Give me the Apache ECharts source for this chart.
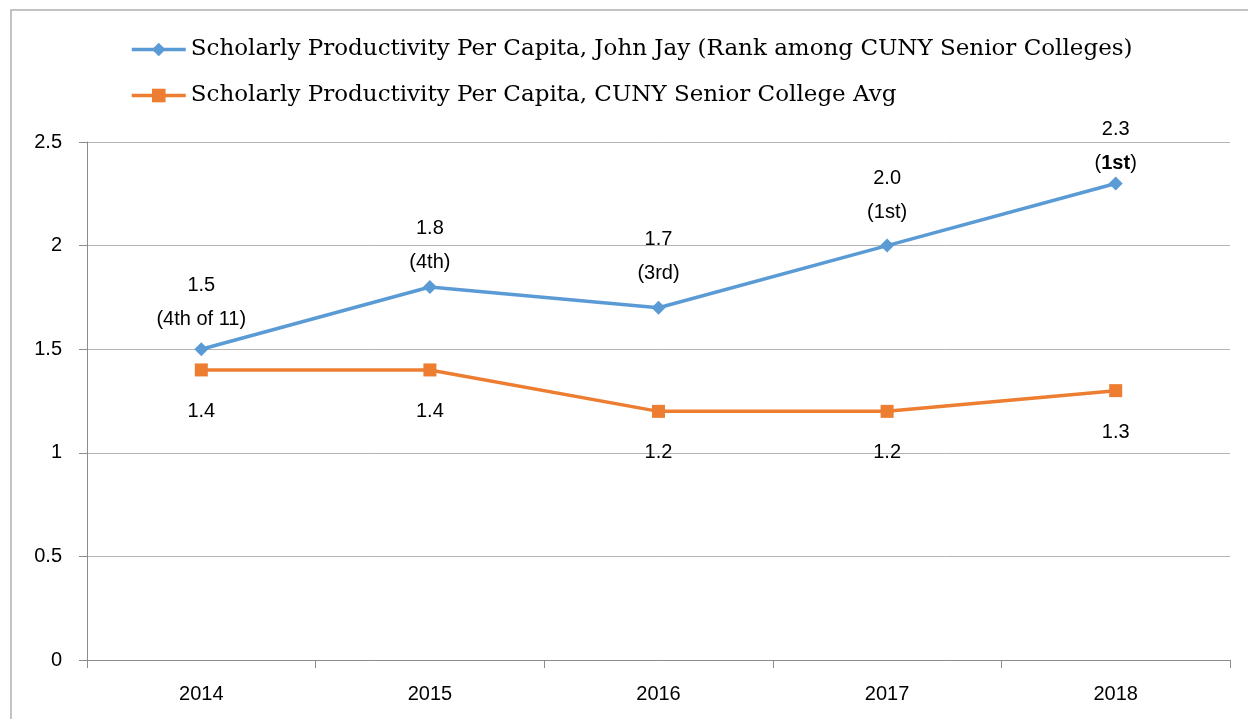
<!DOCTYPE html>
<html>
<head>
<meta charset="utf-8">
<script src="https://cdn.jsdelivr.net/npm/echarts@6/dist/echarts.min.js"></script>
<style>
  html, body { margin: 0; padding: 0; background: #fff; }
  #main { width: 1248px; height: 719px; }
</style>
</head>
<body>
<div id="main"></div>
<script>
const years = ['2014', '2015', '2016', '2017', '2018'];
const johnJay = [1.5, 1.8, 1.7, 2.0, 2.3];
const johnJayRank = ['(4th of 11)', '(4th)', '(3rd)', '(1st)', '(1st)'];
const cunyAvg = [1.4, 1.4, 1.2, 1.2, 1.3];
const seriesNames = [
  'Scholarly Productivity Per Capita, John Jay (Rank among CUNY Senior Colleges)',
  'Scholarly Productivity Per Capita, CUNY Senior College Avg'
];

const chart = echarts.init(document.getElementById('main'));
const labelFont = 'Liberation Sans, Arial, sans-serif';
// labels in the original were nudged by hand, so shift each one a bit
const rankLabelShift = [0, 5, -4, -3, 10];

chart.setOption({
  animation: false,
  backgroundColor: '#fff',
  graphic: [{
    type: 'rect',
    shape: { x: 11, y: 10, width: 1300, height: 800 },
    style: { fill: 'none', stroke: '#b0b0b0', lineWidth: 1.5 },
    silent: true
  }],
  legend: {
    orient: 'vertical',
    left: 125,
    top: 33,
    itemWidth: 54,
    itemHeight: 17,
    itemGap: 23,
    lineStyle: { width: 3.5 },
    textStyle: { fontFamily: 'DejaVu Serif, serif', fontSize: 23, color: '#000' }
  },
  grid: { left: 87, right: 18, top: 142, bottom: 59 },
  xAxis: {
    type: 'category',
    data: years,
    boundaryGap: true,
    axisLine: { lineStyle: { color: '#8c8c8c', width: 1 } },
    axisTick: { show: true, length: 8, lineStyle: { color: '#8c8c8c' } },
    axisLabel: { fontFamily: labelFont, fontSize: 20, color: '#000', margin: 24 }
  },
  yAxis: {
    type: 'value',
    min: 0,
    max: 2.5,
    interval: 0.5,
    axisLine: { show: true, lineStyle: { color: '#8c8c8c', width: 1 } },
    axisTick: { show: true, length: 8, lineStyle: { color: '#8c8c8c' } },
    splitLine: { lineStyle: { color: '#b3b3b3', width: 1 } },
    axisLabel: { fontFamily: labelFont, fontSize: 20, color: '#000', margin: 25 }
  },
  series: [
    {
      name: seriesNames[0],
      type: 'line',
      data: johnJay.map((v, i) => ({
        value: v,
        label: {
          offset: [0, rankLabelShift[i]],
          formatter: v.toFixed(1) + '\n' + (i === johnJay.length - 1
            ? '(' + '{b|1st}' + ')'
            : johnJayRank[i])
        }
      })),
      symbol: 'diamond',
      symbolSize: 14,
      lineStyle: { color: '#5B9BD5', width: 3.5 },
      itemStyle: { color: '#5B9BD5' },
      label: {
        show: true,
        position: 'top',
        distance: 6,
        fontFamily: labelFont,
        fontSize: 20,
        lineHeight: 34,
        color: '#000',
        rich: { b: { fontFamily: labelFont, fontSize: 20, fontWeight: 'bold', color: '#000' } }
      },
      z: 3
    },
    {
      name: seriesNames[1],
      type: 'line',
      data: cunyAvg,
      symbol: 'rect',
      symbolSize: 13,
      lineStyle: { color: '#ED7D31', width: 3.5 },
      itemStyle: { color: '#ED7D31' },
      label: {
        show: true,
        position: 'bottom',
        distance: 25,
        fontFamily: labelFont,
        fontSize: 20,
        color: '#000',
        formatter: p => p.value.toFixed(1)
      },
      z: 2
    }
  ]
});
</script>
</body>
</html>
